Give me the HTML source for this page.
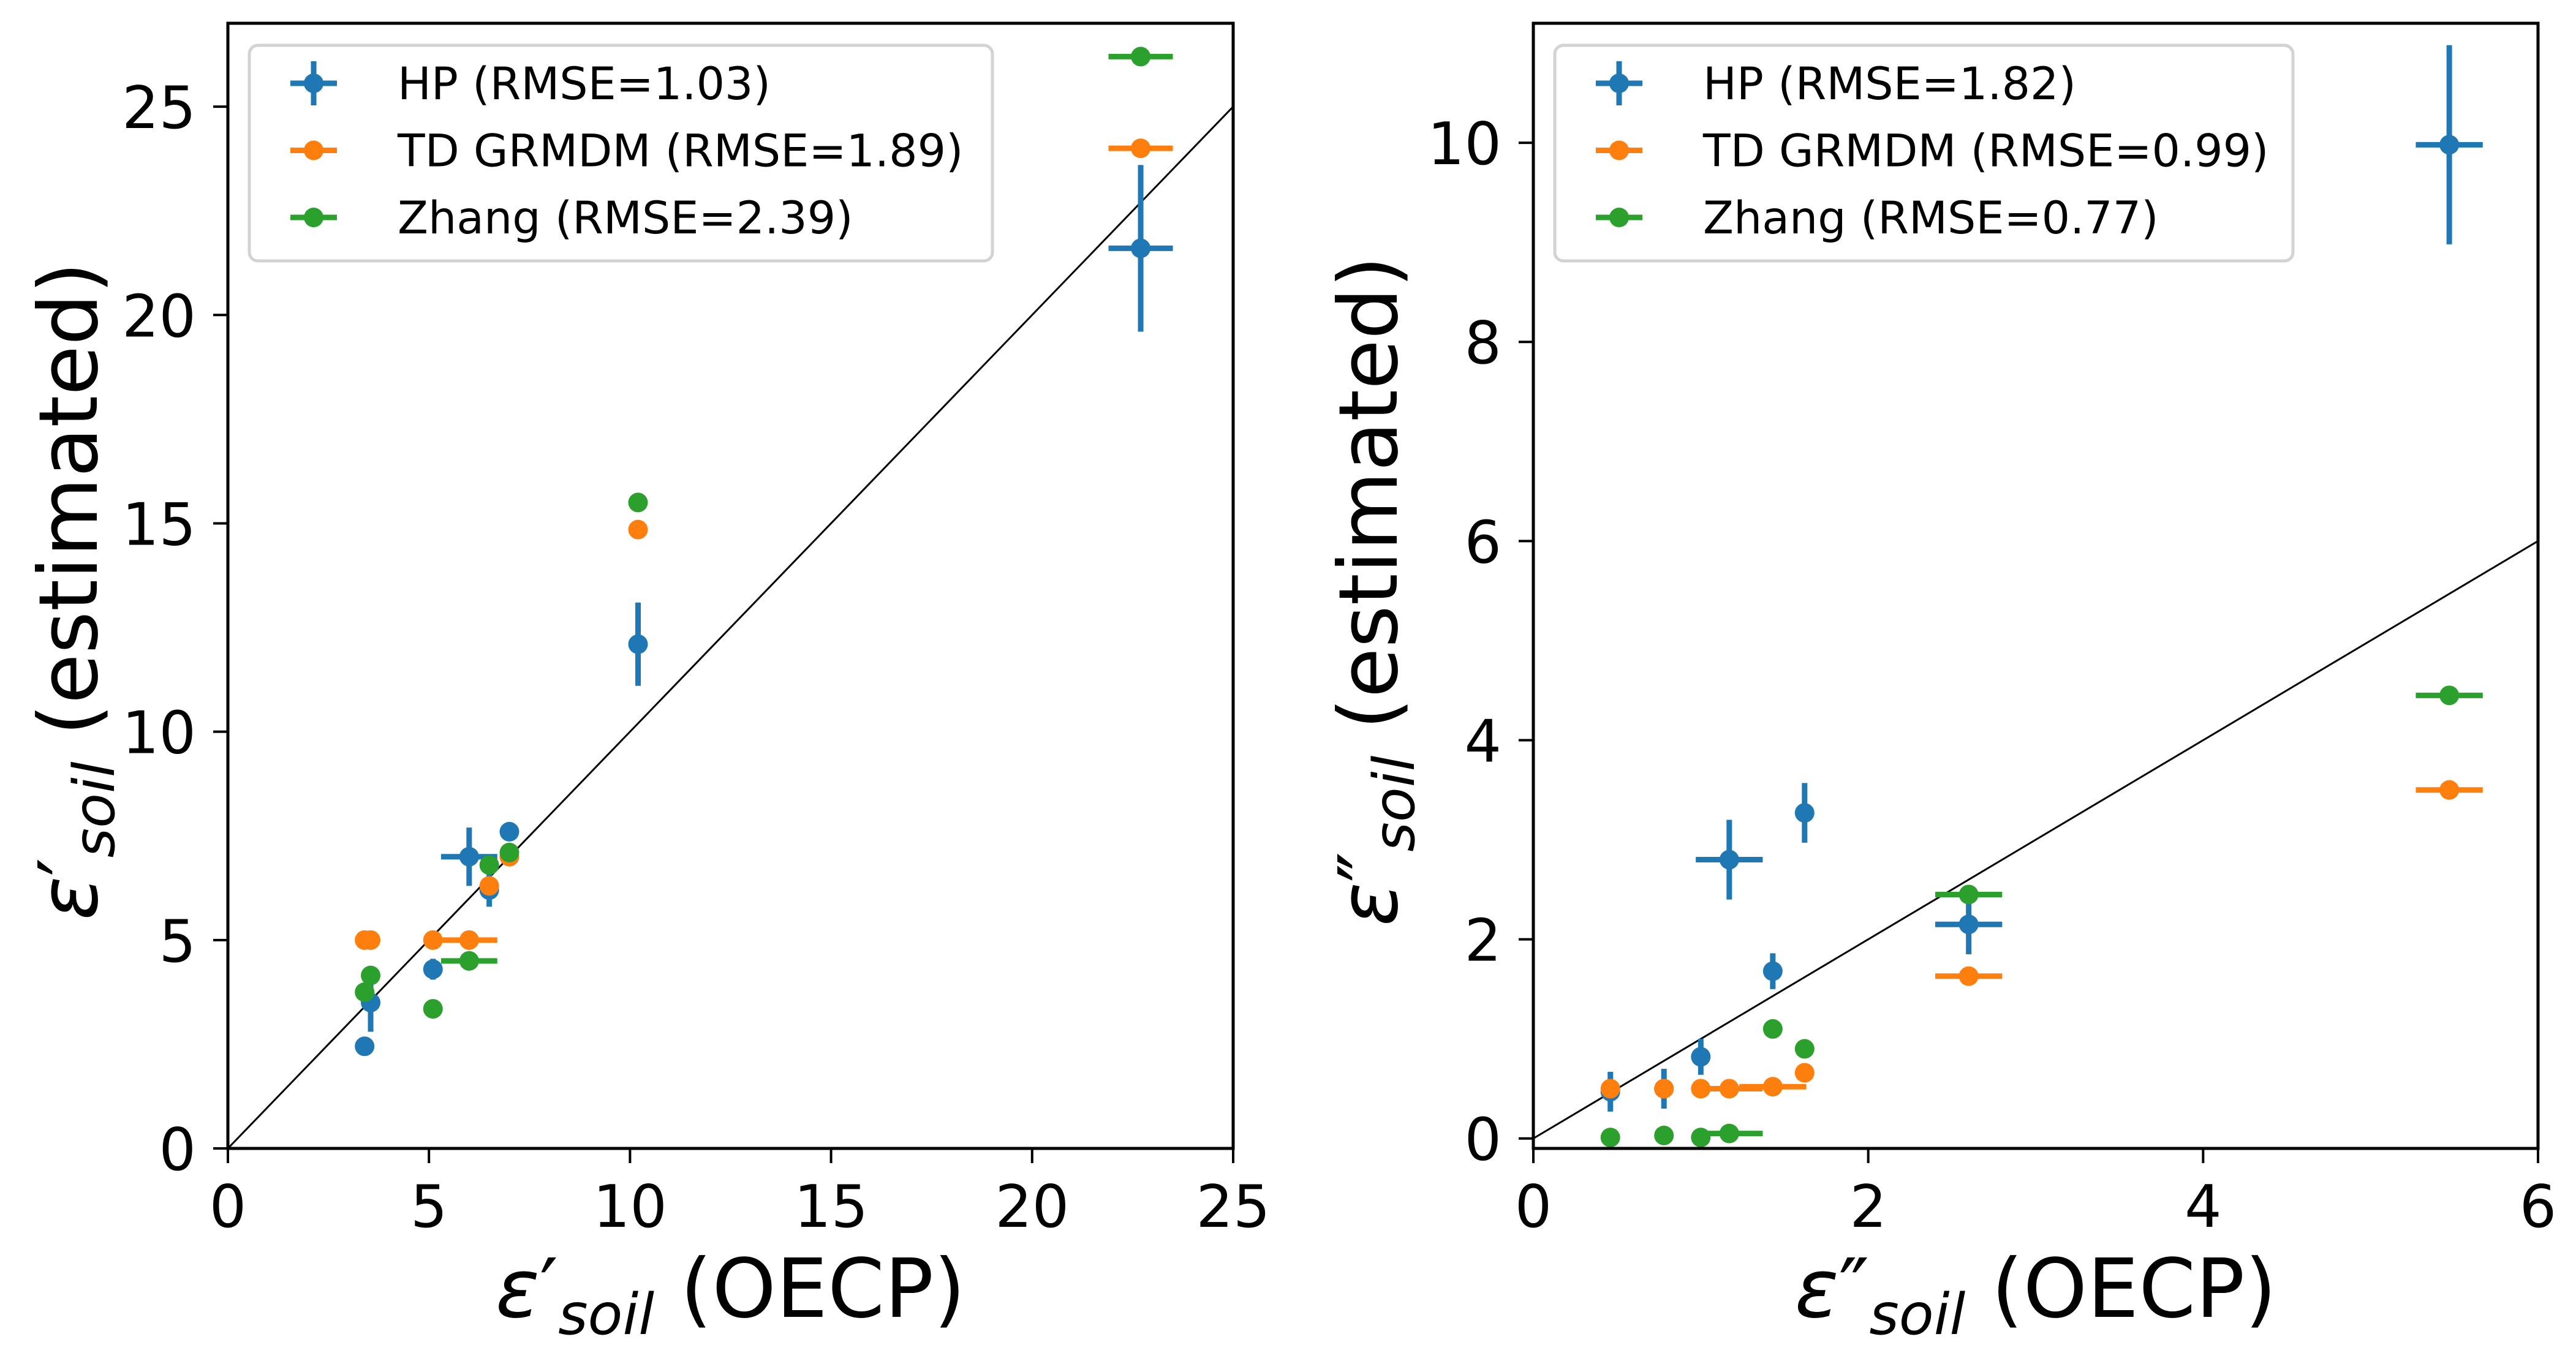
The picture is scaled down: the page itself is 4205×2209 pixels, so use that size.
<!DOCTYPE html>
<html><head><meta charset="utf-8"><style>
html,body{margin:0;padding:0;background:#fff;}
svg{display:block;font-family:"DejaVu Sans","Liberation Sans",sans-serif;}
</style></head><body>
<svg id="fig" width="4205" height="2209" viewBox="0 0 4205 2209" xmlns="http://www.w3.org/2000/svg"></svg>
<script>
// ---- Left panel data (eps' soil) ----
const xL = [3.4, 3.55, 5.1, 6.0, 6.5, 7.0, 10.2, 22.7];
const hpL = [2.45, 3.5, 4.3, 7.0, 6.2, 7.6, 12.1, 21.6];
const hpLxe = [0.15, 0.15, 0.2, 0.7, 0.1, 0.15, 0.1, 0.8];
const hpLye = [0.1, 0.7, 0.25, 0.7, 0.4, 0.2, 1.0, 2.0];
const tdL = [5.0, 5.0, 5.0, 5.0, 6.3, 7.0, 14.85, 24.0];
const tdLxe = [0.15, 0.15, 0.1, 0.7, 0.1, 0.1, 0.1, 0.8];
const zhL = [3.75, 4.15, 3.35, 4.5, 6.8, 7.1, 15.5, 26.2];
const zhLxe = [0.15, 0.15, 0.15, 0.7, 0.1, 0.15, 0.15, 0.8];
const ticksLx = [0, 5, 10, 15, 20, 25];
const ticksLy = [0, 5, 10, 15, 20, 25];
// ---- Right panel data (eps'' soil) ----
const xR = [0.46, 0.78, 1.0, 1.17, 1.43, 1.62, 2.6, 5.47];
const hpR = [0.47, 0.5, 0.82, 2.8, 1.68, 3.27, 2.15, 9.98];
const hpRxe = [0.02, 0.02, 0.02, 0.2, 0.02, 0.02, 0.2, 0.2];
const hpRye = [0.2, 0.2, 0.18, 0.4, 0.18, 0.3, 0.3, 1.0];
const tdR = [0.5, 0.5, 0.5, 0.5, 0.52, 0.66, 1.63, 3.5];
const tdRxe = [0.02, 0.02, 0.02, 0.2, 0.2, 0.02, 0.2, 0.2];
const zhR = [0.01, 0.03, 0.01, 0.05, 1.1, 0.9, 2.45, 4.45];
const zhRxe = [0.02, 0.02, 0.02, 0.2, 0.02, 0.02, 0.2, 0.2];
const ticksRx = [0, 2, 4, 6];
const ticksRy = [0, 2, 4, 6, 8, 10];
const legL = ["HP (RMSE=1.03)", "TD GRMDM (RMSE=1.89)", "Zhang (RMSE=2.39)"];
const legR = ["HP (RMSE=1.82)", "TD GRMDM (RMSE=0.99)", "Zhang (RMSE=0.77)"];

const NS = "http://www.w3.org/2000/svg";
const svg = document.getElementById('fig');
const C = ["#1f77b4", "#ff7f0e", "#2ca02c"];
function mk(tag, attrs, parent) {
  const e = document.createElementNS(NS, tag);
  for (const k in attrs) e.setAttribute(k, attrs[k]);
  (parent || svg).appendChild(e);
  return e;
}

function panel(opt) {
  const g = mk('g', {});
  
  
  const X0 = opt.x0, X1 = opt.x1, Y0 = 38, Y1 = 1875;
  const sx = v => X0 + (v - opt.xmin) / (opt.xmax - opt.xmin) * (X1 - X0);
  const sy = v => Y1 - (v - opt.ymin) / (opt.ymax - opt.ymin) * (Y1 - Y0);
  const cid = 'clip' + opt.name;
  const cp = mk('clipPath', {id: cid}, g);
  mk('rect', {x: X0, y: Y0, width: X1 - X0, height: Y1 - Y0}, cp);
  const m = Math.min(opt.xmax, opt.ymax);
  const d = mk('line', {x1: sx(0), y1: sy(0), x2: sx(m), y2: sy(m), stroke: '#000', 'stroke-width': 3, 'clip-path': 'url(#' + cid + ')'}, g);
  
  
  opt.series.forEach((s, si) => {
    const sg = mk('g', {'clip-path': 'url(#' + cid + ')'}, g);
    
    
    s.y.forEach((yv, i) => {
      const px = sx(opt.x[i]), py = sy(yv);
      const xe = s.xe ? s.xe[i] : 0, ye = s.ye ? s.ye[i] : 0;
      if (xe) {
        const l = mk('line', {x1: sx(opt.x[i] - xe), y1: py, x2: sx(opt.x[i] + xe), y2: py, stroke: C[si], 'stroke-width': 9}, sg);
        
        
      }
      if (ye) {
        const l = mk('line', {x1: px, y1: sy(yv - ye), x2: px, y2: sy(yv + ye), stroke: C[si], 'stroke-width': 9}, sg);
        
        
      }
      const c = mk('circle', {cx: px, cy: py, r: 16, fill: C[si]}, sg);
      
      
    });
  });
  const f = mk('rect', {x: X0, y: Y0, width: X1 - X0, height: Y1 - Y0, fill: 'none', stroke: '#000', 'stroke-width': 5}, g);
  
  
  opt.xt.forEach(t => {
    mk('line', {x1: sx(t), y1: Y1, x2: sx(t), y2: Y1 + 24, stroke: '#000', 'stroke-width': 4}, g);
    const tx = mk('text', {x: sx(t), y: 2003, 'font-size': 95, 'text-anchor': 'middle', fill: '#000'}, g);
    tx.textContent = t;
    
    
  });
  opt.yt.forEach(t => {
    mk('line', {x1: X0 - 24, y1: sy(t), x2: X0, y2: sy(t), stroke: '#000', 'stroke-width': 4}, g);
    const tx = mk('text', {x: X0 - 52, y: sy(t) + 35, 'font-size': 95, 'text-anchor': 'end', fill: '#000'}, g);
    tx.textContent = t;
    
    
  });
  const xl = mk('text', {x: (X0 + X1) / 2, y: 2150, 'font-size': 133, 'text-anchor': 'middle', fill: '#000'}, g);
  xl.innerHTML = '<tspan font-style="italic">ε</tspan>' + opt.prime + '<tspan font-style="italic" font-size="93" dy="28">soil</tspan><tspan dy="-28"> (OECP)</tspan>';
  
  
  const yl = mk('text', {x: 0, y: 0, 'font-size': 133, 'text-anchor': 'middle', fill: '#000', transform: 'translate(' + opt.ylx + ',965) rotate(-90)'}, g);
  yl.innerHTML = '<tspan font-style="italic">ε</tspan>' + opt.prime + '<tspan font-style="italic" font-size="93" dy="28">soil</tspan><tspan dy="-28"> (estimated)</tspan>';
  
  
  const lg = mk('g', {}, g);
  
  
  const lx = X0 + 35;
  mk('rect', {x: lx, y: 74, width: opt.legW, height: 352, rx: 14, fill: '#fff', 'fill-opacity': 0.8, stroke: '#d3d3d3', 'stroke-width': 5}, lg);
  opt.leg.forEach((txt, i) => {
    const cy = 136 + i * 109.5;
    const e = mk('g', {}, lg);
    
    
    mk('line', {x1: lx + 67, y1: cy, x2: lx + 143, y2: cy, stroke: C[i], 'stroke-width': 9}, e);
    if (i === 0) mk('line', {x1: lx + 105, y1: cy - 36, x2: lx + 105, y2: cy + 36, stroke: C[i], 'stroke-width': 9}, e);
    mk('circle', {cx: lx + 105, cy: cy, r: 16, fill: C[i]}, e);
    const t = mk('text', {x: lx + 242, y: cy + 26, 'font-size': 73, fill: '#000'}, e);
    t.textContent = txt;
  });
}

panel({name: 'left-panel', x0: 372, x1: 2013, xmin: 0, xmax: 25, ymin: 0, ymax: 27.0,
  x: xL, xt: ticksLx, yt: ticksLy, prime: '′', ylx: 158, leg: legL, legW: 1213,
  series: [{name: 'hp-series', y: hpL, xe: hpLxe, ye: hpLye}, {name: 'td-grmdm-series', y: tdL, xe: tdLxe}, {name: 'zhang-series', y: zhL, xe: zhLxe}]});
panel({name: 'right-panel', x0: 2503, x1: 4143, xmin: 0, xmax: 6, ymin: -0.1, ymax: 11.2,
  x: xR, xt: ticksRx, yt: ticksRy, prime: '″', ylx: 2280, leg: legR, legW: 1205,
  series: [{name: 'hp-series', y: hpR, xe: hpRxe, ye: hpRye}, {name: 'td-grmdm-series', y: tdR, xe: tdRxe}, {name: 'zhang-series', y: zhR, xe: zhRxe}]});
</script>
</body></html>
